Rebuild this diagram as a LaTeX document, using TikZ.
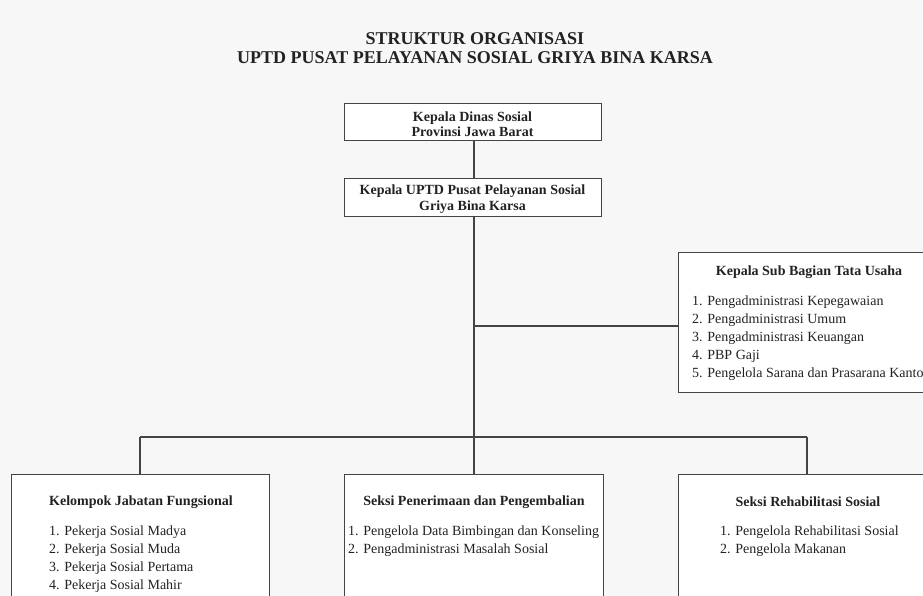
\documentclass[tikz,border=0pt]{standalone}
\usepackage{fontspec}
\setmainfont{Liberation Serif}
\definecolor{bgc}{HTML}{F7F7F7}
\definecolor{txt}{HTML}{222222}
\definecolor{edge}{HTML}{444444}
\tikzset{
  orgbox/.style={draw=edge, line width=1.1pt, fill=white, inner sep=0pt, anchor=north west},
  headtext/.style={inner sep=0pt, align=center, text=txt, font=\fontsize{14}{15.5}\selectfont\bfseries},
  boxtitle/.style={inner sep=0pt, text=txt, font=\fontsize{14}{16}\selectfont\bfseries},
  boxlist/.style={inner sep=0pt, anchor=north west, align=left, text=txt, font=\fontsize{14}{17.8}\selectfont},
  link/.style={draw=edge, line width=1.2pt}
}
\begin{document}
\begin{tikzpicture}[x=1pt,y=-1pt]
\fill[bgc] (0,0) rectangle (923,596);
\useasboundingbox (0,0) rectangle (923,596);
\clip (0,0) rectangle (923,596);

% title
\node[inner sep=0pt, text=txt, font=\fontsize{18}{20}\selectfont\bfseries] (title1) at (475,39) {STRUKTUR ORGANISASI};
\node[inner sep=0pt, text=txt, font=\fontsize{18}{20}\selectfont\bfseries] (title2) at (475,58) {UPTD PUSAT PELAYANAN SOSIAL GRIYA BINA KARSA};

% head boxes
\node[orgbox, minimum width=257pt, minimum height=37pt] (b1) at (344,103) {};
\node[headtext] (b1text) at (472.5,124) {Kepala Dinas Sosial\\Provinsi Jawa Barat};
\node[orgbox, minimum width=257pt, minimum height=38pt] (b2) at (344,178) {};
\node[headtext] (b2text) at (472.5,199) {Kepala UPTD Pusat Pelayanan Sosial\\Griya Bina Karsa};

% sub bagian
\node[orgbox, minimum width=258pt, minimum height=140pt] (sub) at (678,252) {};
\node[boxtitle] (subtitle) at (809,272) {Kepala Sub Bagian Tata Usaha};
\node[boxlist] (sublist) at (692,296) {1. Pengadministrasi Kepegawaian\\2. Pengadministrasi Umum\\3. Pengadministrasi Keuangan\\4. PBP Gaji\\5. Pengelola Sarana dan Prasarana Kantor};

% bottom boxes
\node[orgbox, minimum width=258pt, minimum height=160pt] (left) at (11,474) {};
\node[boxtitle] (lefttitle) at (141,502) {Kelompok Jabatan Fungsional};
\node[boxlist] (leftlist) at (49,526) {1. Pekerja Sosial Madya\\2. Pekerja Sosial Muda\\3. Pekerja Sosial Pertama\\4. Pekerja Sosial Mahir};

\node[orgbox, minimum width=259pt, minimum height=160pt] (mid) at (344,474) {};
\node[boxtitle] (midtitle) at (474,502) {Seksi Penerimaan dan Pengembalian};
\node[boxlist] (midlist) at (348,526) {1. Pengelola Data Bimbingan dan Konseling\\2. Pengadministrasi Masalah Sosial};

\node[orgbox, minimum width=258pt, minimum height=160pt] (right) at (678,474) {};
\node[boxtitle] (righttitle) at (808,502) {Seksi Rehabilitasi Sosial};
\node[boxlist] (rightlist) at (720,526) {1. Pengelola Rehabilitasi Sosial\\2. Pengelola Makanan};

% connectors
\coordinate (jsub) at (474,326);
\coordinate (hm) at (474,437);
\coordinate (hl) at (140,437);
\coordinate (hr) at (807,437);
\draw[link] (b1.south -| jsub) -- (b2.north -| jsub);
\draw[link] (b2.south -| jsub) -- (hm);
\draw[link] (jsub) -- (jsub -| sub.west);
\draw[link] (hl) -- (hr);
\draw[link] (hl) -- (left.north -| hl);
\draw[link] (hm) -- (mid.north -| hm);
\draw[link] (hr) -- (right.north -| hr);
\end{tikzpicture}
\end{document}
